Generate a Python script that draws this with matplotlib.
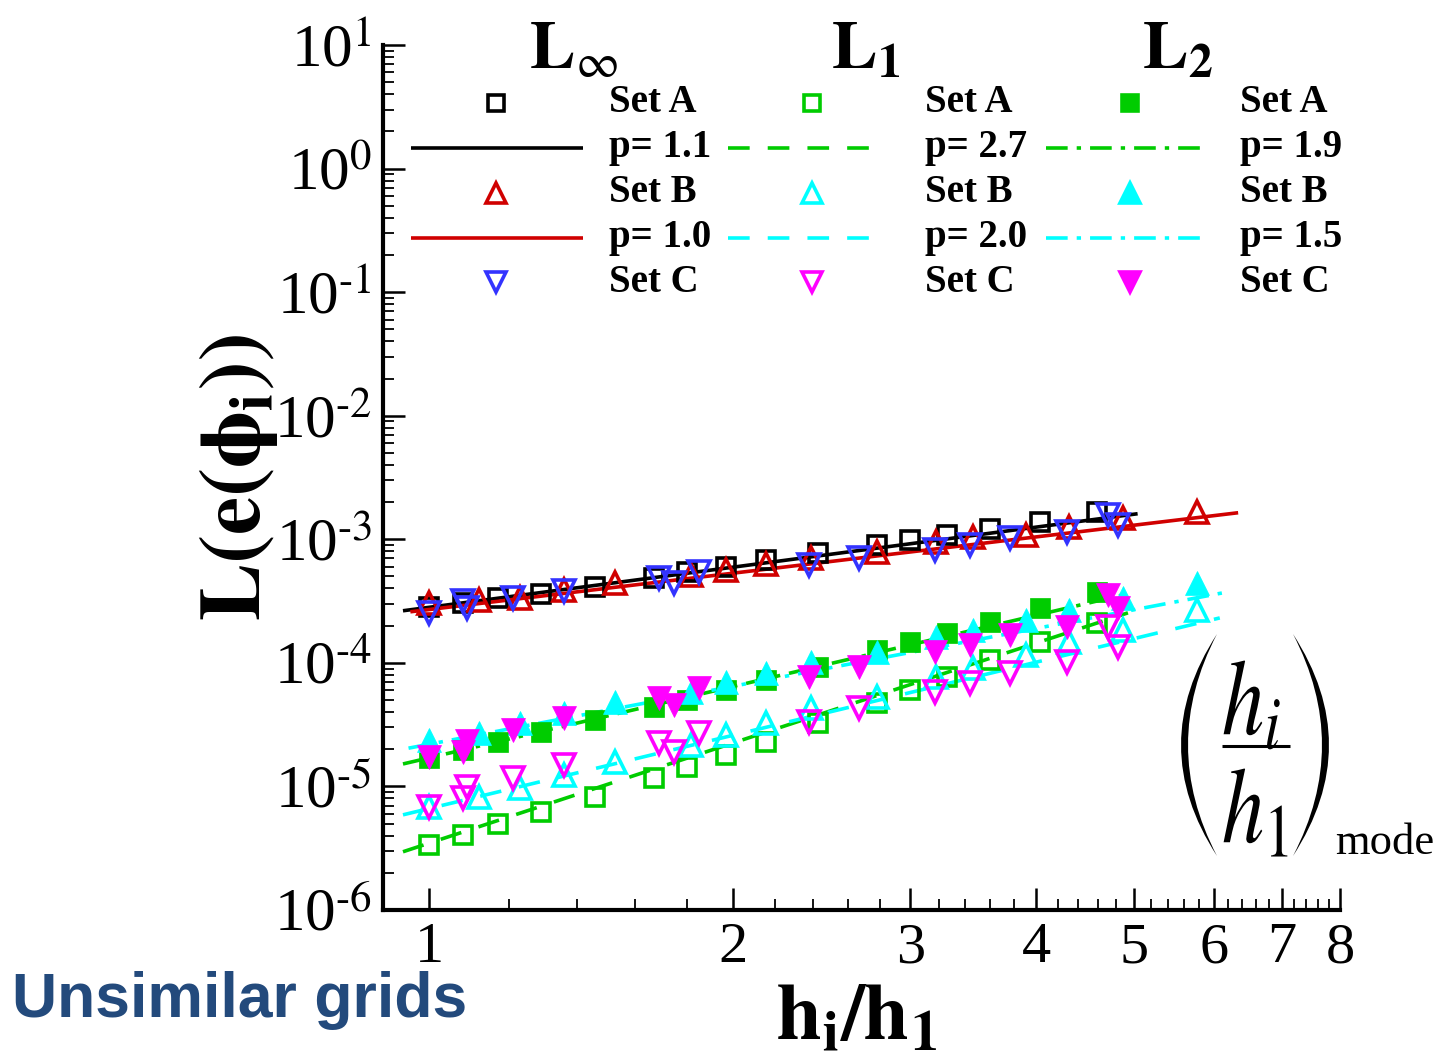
import matplotlib
matplotlib.use('Agg')
import matplotlib.pyplot as plt
from matplotlib.ticker import FixedLocator, NullFormatter, FixedFormatter
from matplotlib.textpath import TextPath
from matplotlib.patches import PathPatch
from matplotlib.path import Path
from matplotlib.transforms import Affine2D
from matplotlib.font_manager import FontProperties

plt.rcParams['font.family'] = ['Liberation Serif', 'DejaVu Serif']
plt.rcParams['mathtext.fontset'] = 'stix'

# ---------------- data ----------------
setA_h = [1.0, 1.08, 1.17, 1.29, 1.46, 1.67, 1.80, 1.97, 2.16, 2.43, 2.78, 3.0, 3.26, 3.6, 4.03, 4.59]
setB_h = [1.0, 1.12, 1.23, 1.36, 1.53, 1.82, 1.97, 2.16, 2.39, 2.78, 3.18, 3.46, 3.91, 4.31, 4.87, 5.77]
setC_h = [1.0, 1.08, 1.09, 1.21, 1.36, 1.69, 1.75, 1.85, 2.38, 2.67, 3.17, 3.44, 3.77, 4.29, 4.71, 4.82]

linf_A = [2.84e-4, 3.06e-4, 3.36e-4, 3.61e-4, 4.12e-4, 4.88e-4, 5.45e-4, 5.98e-4, 6.81e-4, 7.76e-4,
          9.01e-4, 9.89e-4, 1.086e-3, 1.21e-3, 1.38e-3, 1.67e-3]
linf_B = [3.06e-4, 3.24e-4, 3.35e-4, 3.90e-4, 4.44e-4, 5.15e-4, 5.65e-4, 6.32e-4, 7.07e-4, 7.91e-4,
          9.53e-4, 1.045e-3, 1.086e-3, 1.26e-3, 1.49e-3, 1.67e-3]
linf_C = [2.54e-4, 3.18e-4, 2.79e-4, 3.36e-4, 3.83e-4, 4.88e-4, 4.44e-4, 5.45e-4, 6.21e-4, 7.07e-4,
          8.20e-4, 9.01e-4, 1.03e-3, 1.15e-3, 1.58e-3, 1.31e-3]

l1_A = [3.37e-6, 4.06e-6, 4.98e-6, 6.22e-6, 8.24e-6, 1.175e-5, 1.44e-5, 1.80e-5, 2.30e-5, 3.27e-5,
        4.75e-5, 6.05e-5, 7.71e-5, 1.057e-4, 1.48e-4, 2.11e-4]
l1_B = [6.84e-6, 8.24e-6, 9.75e-6, 1.242e-5, 1.58e-5, 2.17e-5, 2.61e-5, 3.27e-5, 4.33e-5, 5.31e-5,
        7.71e-5, 9.12e-5, 1.16e-4, 1.48e-4, 1.85e-4, 2.69e-4]
l1_C = [6.84e-6, 8.09e-6, 9.93e-6, 1.175e-5, 1.50e-5, 2.25e-5, 1.91e-5, 2.71e-5, 3.33e-5, 4.33e-5,
        5.82e-5, 6.89e-5, 8.30e-5, 1.02e-4, 1.95e-4, 1.35e-4]

l2_A = [1.70e-5, 1.98e-5, 2.30e-5, 2.77e-5, 3.46e-5, 4.41e-5, 5.02e-5, 6.05e-5, 7.28e-5, 9.28e-5,
        1.27e-4, 1.48e-4, 1.75e-4, 2.15e-4, 2.79e-4, 3.75e-4]
l2_B = [2.38e-5, 2.71e-5, 3.27e-5, 3.94e-5, 4.83e-5, 5.82e-5, 7.02e-5, 8.30e-5, 1.02e-4, 1.23e-4,
        1.62e-4, 1.85e-4, 2.23e-4, 2.69e-4, 3.36e-4, 4.44e-4]
l2_C = [1.73e-5, 1.91e-5, 2.34e-5, 2.87e-5, 3.59e-5, 5.21e-5, 4.57e-5, 6.28e-5, 7.71e-5, 9.28e-5,
        1.23e-4, 1.40e-4, 1.69e-4, 1.95e-4, 3.55e-4, 2.79e-4]

# fitted power-law lines (end points)
fit_linf_A_h = [0.942, 5.04];  fit_linf_A_e = [2.64e-4, 1.61e-3]
fit_linf_B_h = [0.958, 6.34];  fit_linf_B_e = [2.59e-4, 1.64e-3]
fit_l1_A_h = [0.942, 4.93];    fit_l1_A_e = [2.96e-6, 2.54e-4]
fit_l1_B_h = [0.942, 6.08];    fit_l1_B_e = [5.89e-6, 2.31e-4]
fit_l2_A_h = [0.942, 4.97];    fit_l2_A_e = [1.52e-5, 3.68e-4]
fit_l2_B_h = [0.954, 6.19];    fit_l2_B_e = [2.04e-5, 3.75e-4]

order_labels = ['p= 1.1', 'p= 1.0', 'p= 2.7', 'p= 2.0', 'p= 1.9', 'p= 1.5']
norm_headers = [r'$\mathbf{L}_{\infty}$', r'$\mathbf{L}_{\mathbf{1}}$', r'$\mathbf{L}_{\mathbf{2}}$']
set_labels = ['Set A', 'Set B', 'Set C']

x_major = [1, 2, 3, 4, 5, 6, 7, 8]
x_minor = [1.2, 1.4, 1.6, 1.8, 2.2, 2.4, 2.6, 2.8, 3.2, 3.4, 3.6, 3.8, 4.2, 4.4, 4.6, 4.8,
           5.2, 5.4, 5.6, 5.8, 6.2, 6.4, 6.6, 6.8, 7.2, 7.4, 7.6, 7.8]
y_exponents = [-6, -5, -4, -3, -2, -1, 0, 1]
y_major = [10.0 ** e for e in y_exponents]
y_labels = [r'$\mathdefault{10^{\text{%s}}}$' % ('-%d' % -e if e < 0 else '%d' % e) for e in y_exponents]

# ---------------- colours / styles ----------------
BLACK = '#000000'
RED = '#d00000'
BLUE = '#3333ff'
GREEN = '#00cc00'
CYAN = '#00ffff'
MAGENTA = '#ff00ff'
DASH = (0, (6, 5))
DASHDOT = (0, (6, 2.5, 1.2, 2.5))
LW = 2.6

fig = plt.figure(figsize=(14.41, 10.58), dpi=100)
W, H = 1441, 1058
ax = fig.add_axes([383 / W, 1 - 910 / H, (1340 - 383) / W, (910 - 45) / H])
ax.set_xscale('log')
ax.set_yscale('log')
ax.set_xlim(0.9, 8.0)
ax.set_ylim(1e-6, 1e1)
for s in ['top', 'right']:
    ax.spines[s].set_visible(False)
for s in ['left', 'bottom']:
    ax.spines[s].set_linewidth(3)

ax.xaxis.set_major_locator(FixedLocator(x_major))
ax.xaxis.set_major_formatter(FixedFormatter([str(v) for v in x_major]))
ax.xaxis.set_minor_locator(FixedLocator(x_minor))
ax.xaxis.set_minor_formatter(NullFormatter())
ax.yaxis.set_major_locator(FixedLocator(y_major))
ax.yaxis.set_major_formatter(FixedFormatter(y_labels))
ax.tick_params(which='major', direction='in', length=16, width=1.8)
ax.tick_params(which='minor', direction='in', length=8, width=1.3)
ax.tick_params(axis='x', which='major', labelsize=42, pad=9)
ax.tick_params(axis='y', which='major', labelsize=44, pad=8)

# fit lines
ax.plot(fit_linf_A_h, fit_linf_A_e, color=BLACK, lw=LW, solid_capstyle='butt', zorder=2)
ax.plot(fit_linf_B_h, fit_linf_B_e, color=RED, lw=LW, solid_capstyle='butt', zorder=2)
ax.plot(fit_l1_A_h, fit_l1_A_e, color=GREEN, lw=LW, ls=DASH, zorder=2)
ax.plot(fit_l1_B_h, fit_l1_B_e, color=CYAN, lw=LW, ls=DASH, zorder=2)
ax.plot(fit_l2_A_h, fit_l2_A_e, color=GREEN, lw=LW, ls=DASHDOT, zorder=2)
ax.plot(fit_l2_B_h, fit_l2_B_e, color=CYAN, lw=LW, ls=DASHDOT, zorder=2)

# markers
MS_SQ, MS_TR, MEW = 13, 16, 2.6
ax.plot(setA_h, linf_A, ls='none', marker='s', ms=MS_SQ, mfc='none', mec=BLACK, mew=MEW, zorder=3)
ax.plot(setB_h, linf_B, ls='none', marker='^', ms=MS_TR, mfc='none', mec=RED, mew=MEW, zorder=3)
ax.plot(setC_h, linf_C, ls='none', marker='v', ms=MS_TR, mfc='none', mec=BLUE, mew=MEW, zorder=3)
ax.plot(setA_h, l1_A, ls='none', marker='s', ms=MS_SQ, mfc='none', mec=GREEN, mew=MEW, zorder=3)
ax.plot(setB_h, l1_B, ls='none', marker='^', ms=MS_TR, mfc='none', mec=CYAN, mew=MEW, zorder=3)
ax.plot(setC_h, l1_C, ls='none', marker='v', ms=MS_TR, mfc='none', mec=MAGENTA, mew=MEW, zorder=3)
ax.plot(setA_h, l2_A, ls='none', marker='s', ms=MS_SQ + 1, mfc=GREEN, mec=GREEN, mew=0.5, zorder=3)
ax.plot(setB_h, l2_B, ls='none', marker='^', ms=MS_TR + 1, mfc=CYAN, mec=CYAN, mew=0.5, zorder=3)
ax.plot(setC_h, l2_C, ls='none', marker='v', ms=MS_TR + 1, mfc=MAGENTA, mec=MAGENTA, mew=0.5, zorder=3)

# ---------------- overlay (legend & annotations) in pixel space ----------------
ov = fig.add_axes([0, 0, 1, 1], zorder=5)
ov.set_xlim(0, W)
ov.set_ylim(H, 0)
ov.axis('off')
ov.patch.set_alpha(0)

rows_y = [103, 148, 193, 238, 282]
mark_x = [496, 812, 1130]
line_span = [(411, 583), (728, 879), (1046, 1208)]
label_x = [609, 925, 1240]
header_x = [529, 831, 1142]

col_markers = [
    [('s', BLACK, False), ('^', RED, False), ('v', BLUE, False)],
    [('s', GREEN, False), ('^', CYAN, False), ('v', MAGENTA, False)],
    [('s', GREEN, True), ('^', CYAN, True), ('v', MAGENTA, True)],
]
col_lines = [
    [(BLACK, '-'), (RED, '-')],
    [(GREEN, DASH), (CYAN, DASH)],
    [(GREEN, DASHDOT), (CYAN, DASHDOT)],
]
for c in range(3):
    ov.text(header_x[c], 68, norm_headers[c], fontsize=49, ha='left', va='baseline')
    for k, (m, col, filled) in enumerate(col_markers[c]):
        y = rows_y[2 * k]
        ms = 12 if m == 's' else 14
        ov.plot([mark_x[c]], [y], marker=m, ms=ms, ls='none',
                mfc=col if filled else 'none', mec=col, mew=2.6)
        ov.text(label_x[c], y, set_labels[k], fontsize=28, fontweight='bold',
                ha='left', va='center')
    for k, (col, ls) in enumerate(col_lines[c]):
        y = rows_y[2 * k + 1]
        ov.plot(line_span[c], [y, y], color=col, ls=ls, lw=LW, solid_capstyle='butt')
        ov.text(label_x[c], y, order_labels[2 * c + k], fontsize=28, fontweight='bold',
                ha='left', va='center')

# axis labels
ov.text(238, 478, r'$\mathbf{L(e(\phi_i))}$', fontsize=62, rotation=90, ha='center', va='center')
ov.text(856, 1040, r'$\mathbf{h_i/h_1}$', fontsize=58, ha='center', va='baseline')


# ---- (h_i / h_1)_mode annotation ----
def glyphs(s, x, y_base, size_px, sx=1.0):
    tp = TextPath((0, 0), s, size=size_px, prop=FontProperties(family='Liberation Serif'))
    tr = Affine2D().scale(sx, -1).translate(x, y_base) + ov.transData
    ov.add_patch(PathPatch(tp, transform=tr, fc='black', ec='none', lw=0))


def paren(x_end, x_bulge, y_top, y_bot, thick):
    ym = 0.5 * (y_top + y_bot)
    cx_out = x_end + 2 * (x_bulge - x_end)
    sgn = 1 if x_bulge > x_end else -1
    cx_in = cx_out - sgn * 2 * thick
    verts = [(x_end, y_top), (cx_out, ym), (x_end, y_bot),
             (cx_in, ym), (x_end, y_top), (x_end, y_top)]
    codes = [Path.MOVETO, Path.CURVE3, Path.CURVE3, Path.CURVE3, Path.CURVE3, Path.CLOSEPOLY]
    ov.add_patch(PathPatch(Path(verts, codes), transform=ov.transData, fc='black', ec='none'))


paren(1217, 1181, 634, 856, 7)
paren(1293, 1329, 634, 856, 7)
glyphs(r'$h_i$', 1222, 735, 108, sx=0.78)
glyphs(r'$h_1$', 1222, 843, 108, sx=0.78)
ov.plot([1222, 1290], [746, 746], color='black', lw=2.2, solid_capstyle='butt')
ov.text(1335, 843, 'mode', fontsize=32, ha='left', va='center')

# caption
ov.text(12, 1017, 'Unsimilar grids', fontsize=45, fontweight='bold', family='Liberation Sans',
        color='#234a7c', ha='left', va='baseline')

fig.savefig('out.png', dpi=100)
